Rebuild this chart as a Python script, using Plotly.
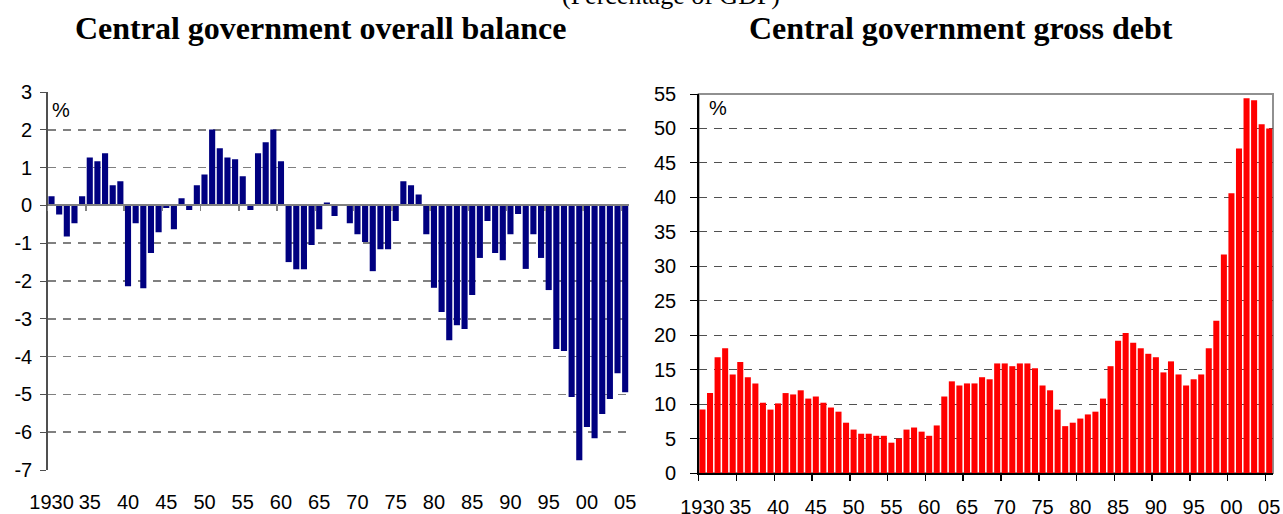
import plotly.graph_objects as go

years = list(range(1930, 2006))

balance = [0.24, -0.24, -0.82, -0.47, 0.24, 1.27, 1.17, 1.38, 0.53, 0.64,
           -2.14, -0.47, -2.19, -1.26, -0.71, -0.07, -0.63, 0.19, -0.12, 0.53,
           0.82, 2.01, 1.51, 1.27, 1.22, 0.77, -0.12, 1.38, 1.67, 2.01,
           1.17, -1.50, -1.69, -1.69, -1.05, -0.63, 0.08, -0.28, 0.0, -0.47,
           -0.76, -0.97, -1.74, -1.16, -1.16, -0.41, 0.64, 0.53, 0.29, -0.76,
           -2.18, -2.82, -3.57, -3.17, -3.27, -2.37, -1.39, -0.41, -1.26, -1.45,
           -0.76, -0.23, -1.68, -0.76, -1.39, -2.24, -3.80, -3.85, -5.07, -6.74,
           -5.86, -6.16, -5.52, -5.12, -4.44, -4.94]

debt = [9.2, 11.6, 16.8, 18.1, 14.3, 16.1, 13.9, 13.0, 10.2, 9.2,
        10.1, 11.6, 11.4, 12.0, 10.8, 11.1, 10.2, 9.5, 8.9, 7.3,
        6.3, 5.7, 5.7, 5.4, 5.4, 4.4, 5.0, 6.3, 6.6, 6.0,
        5.4, 6.9, 11.1, 13.3, 12.7, 13.0, 13.0, 13.9, 13.6, 15.9,
        15.9, 15.5, 15.9, 15.9, 15.2, 12.7, 12.0, 9.2, 6.8, 7.3,
        7.9, 8.5, 8.9, 10.8, 15.5, 19.2, 20.3, 18.9, 18.1, 17.3,
        16.8, 14.6, 16.2, 14.3, 12.7, 13.6, 14.3, 18.1, 22.1, 31.7,
        40.6, 47.1, 54.4, 54.1, 50.6, 50.0]

tick_years = list(range(1930, 2006, 5))
tick_text = ["1930", "35", "40", "45", "50", "55", "60", "65", "70", "75",
             "80", "85", "90", "95", "00", "05"]

balance_ticks = list(range(-7, 4))
debt_ticks = list(range(0, 56, 5))

left_title = "Central government overall balance"
right_title = "Central government gross debt"
subtitle = "(Percentage of GDP)"
unit = "%"

W, H = 1283, 514
boundaries = [y - 0.5 for y in tick_years]
xr = [years[0] - 0.5, years[-1] + 0.5]

# plot-area geometry (pixels)
L_x0, L_x1, L_ytop, L_ybot = 47.7, 629.0, 92.0, 470.0
R_x0, R_x1, R_ytop, R_ybot = 698.7, 1273.0, 94.0, 473.0

ldom_x = [L_x0 / W, L_x1 / W]
ldom_y = [1 - L_ybot / H, 1 - L_ytop / H]
rdom_x = [R_x0 / W, R_x1 / W]
rdom_y = [1 - R_ybot / H, 1 - R_ytop / H]

yl_range = [balance_ticks[0], balance_ticks[-1]]
yr_range = [debt_ticks[0], debt_ticks[-1]]
zero_pos = ldom_y[0] + (0 - yl_range[0]) / (yl_range[1] - yl_range[0]) * (ldom_y[1] - ldom_y[0])

tickfont = dict(family="Liberation Sans, Arial, sans-serif", size=20, color="black")
titlefont = dict(family="Liberation Serif, Times New Roman, serif", size=32, color="black")

fig = go.Figure()

fig.add_trace(go.Bar(x=years, y=balance, marker=dict(color="#000080", line=dict(width=0)),
                     xaxis="x", yaxis="y", showlegend=False))
fig.add_trace(go.Scatter(x=years, y=balance, mode="markers", marker=dict(opacity=0),
                         xaxis="x3", yaxis="y", showlegend=False, hoverinfo="skip"))
fig.add_trace(go.Bar(x=years, y=debt, marker=dict(color="#FF0000", line=dict(width=0)),
                     xaxis="x2", yaxis="y2", showlegend=False))

fig.update_layout(
    width=W, height=H,
    autosize=False,
    margin=dict(l=0, r=0, t=0, b=0, pad=0),
    paper_bgcolor="white", plot_bgcolor="white",
    bargap=0.2,
    showlegend=False,
    xaxis=dict(domain=ldom_x, range=xr, anchor="y", tickmode="array", automargin=False,
               tickvals=tick_years, ticktext=tick_text, ticks="", showline=False,
               showgrid=False, zeroline=False, tickfont=tickfont, ticklabelstandoff=18),
    xaxis3=dict(overlaying="x", matches="x", range=xr, anchor="free", position=zero_pos,
                side="bottom", tickmode="array", tickvals=boundaries, showticklabels=False,
                ticks="outside", ticklen=5, tickwidth=1.5, tickcolor="#808080", automargin=False,
                showline=True, linecolor="#808080", linewidth=2, showgrid=False,
                zeroline=False, layer="above traces"),
    yaxis=dict(domain=ldom_y, range=yl_range, anchor="x", tickmode="array",
               tickvals=balance_ticks, ticktext=[str(v) for v in balance_ticks], automargin=False,
               showgrid=True, gridcolor="#808080", gridwidth=1.5, griddash="8px,7px",
               zeroline=False, showline=True, linecolor="#505050", linewidth=1.5,
               ticks="outside", ticklen=6, tickcolor="#505050", tickfont=tickfont,
               ticklabelstandoff=4),
    xaxis2=dict(domain=rdom_x, range=xr, anchor="y2", tickmode="array", automargin=False,
                tickvals=tick_years, ticktext=tick_text, ticks="",
                minor=dict(tickmode="array", tickvals=boundaries, ticks="outside",
                           ticklen=6, tickcolor="black", tickwidth=1.5, showgrid=False),
                showline=True, linecolor="black", linewidth=1.5, showgrid=False,
                zeroline=False, tickfont=tickfont, ticklabelstandoff=15, layer="above traces"),
    yaxis2=dict(domain=rdom_y, range=yr_range, anchor="x2", tickmode="array",
                tickvals=debt_ticks, ticktext=[str(v) for v in debt_ticks], automargin=False,
                showgrid=True, gridcolor="#505050", gridwidth=1, griddash="8px,7px",
                zeroline=False, showline=True, linecolor="black", linewidth=1.5,
                ticks="outside", ticklen=7, tickcolor="black", tickfont=tickfont,
                ticklabelstandoff=10),
)

fig.add_shape(type="rect", xref="x2 domain", yref="y2 domain", x0=0, x1=1, y0=0, y1=1,
              line=dict(color="#909090", width=2), layer="below")

fig.add_annotation(text=subtitle, xref="paper", yref="paper", x=671 / W, y=1 + 5 / H,
                   xanchor="center", yanchor="middle", showarrow=False,
                   font=dict(family="Liberation Serif, Times New Roman, serif", size=26, color="black"))
fig.add_annotation(text="<b>" + left_title + "</b>", xref="paper", yref="paper",
                   x=320 / W, y=1 - 28 / H, xanchor="center", yanchor="middle",
                   showarrow=False, font=titlefont)
fig.add_annotation(text="<b>" + right_title + "</b>", xref="paper", yref="paper",
                   x=961 / W, y=1 - 28 / H, xanchor="center", yanchor="middle",
                   showarrow=False, font=titlefont)
fig.add_annotation(text=unit, xref="paper", yref="paper", x=61 / W, y=1 - 110 / H,
                   xanchor="center", yanchor="middle", showarrow=False, font=tickfont)
fig.add_annotation(text=unit, xref="paper", yref="paper", x=718 / W, y=1 - 108 / H,
                   xanchor="center", yanchor="middle", showarrow=False, font=tickfont)

fig.write_html(
    "out.html",
    config={"displayModeBar": False, "staticPlot": True},
    post_script="document.documentElement.style.margin='0';"
                "document.body.style.margin='0';"
                "document.body.style.overflow='hidden';",
)
